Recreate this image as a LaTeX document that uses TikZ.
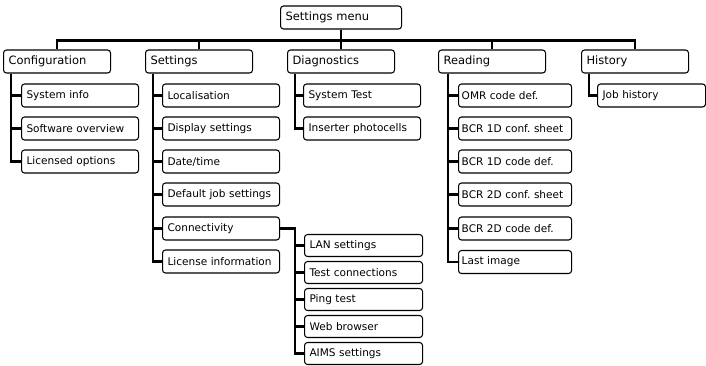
\documentclass[tikz,border=0pt]{standalone}
\usepackage{fontspec}
\setmainfont{DejaVu Sans}
\frenchspacing
\begin{document}
\begin{tikzpicture}[x=0.75pt, y=-0.75pt,
  box/.style={draw, rounded corners=2.25pt, line width=0.8pt, anchor=west, align=left,
    inner xsep=3.75pt, inner ysep=0pt, minimum height=17.25pt, text width=#1,
    font=\fontsize{7.9}{9.5}\selectfont},
  head/.style={box=#1, font=\fontsize{8.6}{10}\selectfont},
  sub/.style={box=81pt, minimum height=16.5pt},
  readbox/.style={box=80pt, inner xsep=2.4pt},
  link/.style={line width=1.6pt}
]
  \useasboundingbox (0,0) rectangle (706,365);

  \node[head=83.25pt] (menu) at (280,17.5) {Settings menu};

  \node[head=72.75pt] (config) at (3,61.5)   {Configuration};
  \node[head=72.75pt] (sett)   at (145,61.5) {Settings};
  \node[head=72.75pt] (diag)   at (287,61.5) {Diagnostics};
  \node[head=72.75pt] (read)   at (438,61.5) {Reading};
  \node[head=72.75pt] (hist)   at (581,61.5) {History};

  \node[box=80.25pt] (sysinfo) at (21,95.5)  {System info};
  \node[box=80.25pt] (swover)  at (21,128.5) {Software overview};
  \node[box=80.25pt] (licopt)  at (21,161.5) {Licensed options};

  \node[box=80.25pt] (local)    at (162,95.5)  {Localisation};
  \node[box=80.25pt] (display)  at (162,128.5) {Display settings};
  \node[box=80.25pt] (datetime) at (162,161.5) {Date/time};
  \node[box=80.25pt] (defjob)   at (162,194.5) {Default job settings};
  \node[box=80.25pt] (conn)     at (162,228.5) {Connectivity};
  \node[box=80.25pt] (licinfo)  at (162,261.5) {License information};

  \node[sub] (lan)      at (304,245.5) {LAN settings};
  \node[sub] (testconn) at (304,272.5) {Test connections};
  \node[sub] (ping)     at (304,299.5) {Ping test};
  \node[sub] (web)      at (304,326.5) {Web browser};
  \node[sub] (aims)     at (304,353.5) {AIMS settings};

  \node[box=80.25pt] (systest) at (303,95.5)  {System Test};
  \node[box=80.25pt] (photo)   at (303,128.5) {Inserter photocells};

  \node[readbox] (omr)     at (458,95.5)  {OMR code def.};
  \node[readbox] (oneconf) at (458,128.5) {BCR 1D conf. sheet};
  \node[readbox] (onedef)  at (458,161.5) {BCR 1D code def.};
  \node[readbox] (twoconf) at (458,194.5) {BCR 2D conf. sheet};
  \node[readbox] (twodef)  at (458,228.5) {BCR 2D code def.};
  \node[readbox] (lastimg) at (458,262)   {Last image};

  \node[box=73.5pt] (jobhist) at (597,95.5) {Job history};

  \draw[link] (menu.south) -- ++(0,11) -| (config.north);
  \draw[link] (menu.south) -- ++(0,11) -| (sett.north);
  \draw[link] (menu.south) -- (diag.north);
  \draw[link] (menu.south) -- ++(0,11) -| (read.north);
  \draw[link] (menu.south) -- ++(0,11) -| (hist.north);

  \draw[link] ([xshift=6pt]config.south west) |- (sysinfo.west);
  \draw[link] ([xshift=6pt]config.south west) |- (swover.west);
  \draw[link] ([xshift=6pt]config.south west) |- (licopt.west);

  \draw[link] ([xshift=6pt]sett.south west) |- (local.west);
  \draw[link] ([xshift=6pt]sett.south west) |- (display.west);
  \draw[link] ([xshift=6pt]sett.south west) |- (datetime.west);
  \draw[link] ([xshift=6pt]sett.south west) |- (defjob.west);
  \draw[link] ([xshift=6pt]sett.south west) |- (conn.west);
  \draw[link] ([xshift=6pt]sett.south west) |- (licinfo.west);

  \draw[link] (conn.east) -- ++(15,0) |- (lan.west);
  \draw[link] (conn.east) -- ++(15,0) |- (testconn.west);
  \draw[link] (conn.east) -- ++(15,0) |- (ping.west);
  \draw[link] (conn.east) -- ++(15,0) |- (web.west);
  \draw[link] (conn.east) -- ++(15,0) |- (aims.west);

  \draw[link] ([xshift=6pt]diag.south west) |- (systest.west);
  \draw[link] ([xshift=6pt]diag.south west) |- (photo.west);

  \draw[link] ([xshift=7.5pt]read.south west) |- (omr.west);
  \draw[link] ([xshift=7.5pt]read.south west) |- (oneconf.west);
  \draw[link] ([xshift=7.5pt]read.south west) |- (onedef.west);
  \draw[link] ([xshift=7.5pt]read.south west) |- (twoconf.west);
  \draw[link] ([xshift=7.5pt]read.south west) |- (twodef.west);
  \draw[link] ([xshift=7.5pt]read.south west) |- (lastimg.west);

  \draw[link] ([xshift=6pt]hist.south west) |- (jobhist.west);
\end{tikzpicture}
\end{document}
